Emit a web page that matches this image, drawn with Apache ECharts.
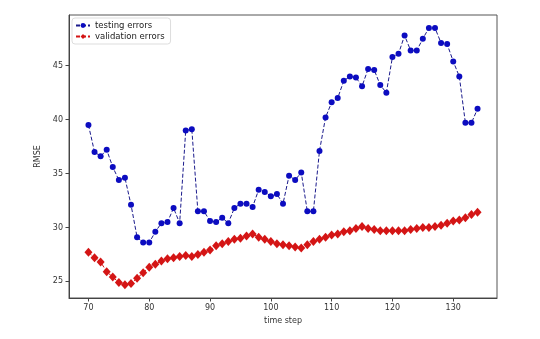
<!DOCTYPE html>
<html>
<head>
<meta charset="utf-8">
<script src="https://cdn.jsdelivr.net/npm/echarts@6/dist/echarts.min.js"></script>
<style>
  html, body { margin: 0; padding: 0; background: #fff; }
  #chart { width: 540px; height: 339px; }
</style>
</head>
<body>
<div id="chart"></div>
<script>
// time steps 70..134
const timeSteps = [
  70, 71, 72, 73, 74, 75, 76, 77, 78, 79, 80, 81, 82, 83, 84, 85, 86, 87, 88, 89,
  90, 91, 92, 93, 94, 95, 96, 97, 98, 99, 100, 101, 102, 103, 104, 105, 106, 107, 108, 109,
  110, 111, 112, 113, 114, 115, 116, 117, 118, 119, 120, 121, 122, 123, 124, 125, 126, 127, 128, 129,
  130, 131, 132, 133, 134
];

const testingErrors = [
  39.5, 37.0, 36.6, 37.2, 35.6, 34.4, 34.6, 32.1, 29.1, 28.6, 28.6, 29.6, 30.4, 30.5, 31.8, 30.4, 39.0, 39.1, 31.5, 31.5,
  30.6, 30.5, 30.9, 30.4, 31.8, 32.2, 32.2, 31.9, 33.5, 33.3, 32.9, 33.1, 32.2, 34.8, 34.4, 35.1, 31.5, 31.5, 37.1, 40.2,
  41.6, 42.0, 43.6, 44.0, 43.9, 43.1, 44.7, 44.6, 43.2, 42.5, 45.8, 46.1, 47.8, 46.4, 46.4, 47.5, 48.5, 48.5, 47.1, 47.0,
  45.4, 44.0, 39.7, 39.7, 41.0
];

const validationErrors = [
  27.7, 27.2, 26.8, 25.9, 25.4, 24.9, 24.7, 24.8, 25.3, 25.8, 26.3, 26.6, 26.9, 27.1, 27.2, 27.3, 27.4, 27.3, 27.5, 27.7,
  27.9, 28.3, 28.5, 28.7, 28.9, 29.0, 29.2, 29.4, 29.1, 28.9, 28.7, 28.5, 28.4, 28.3, 28.2, 28.1, 28.4, 28.7, 28.9, 29.1,
  29.3, 29.4, 29.6, 29.7, 29.9, 30.1, 29.9, 29.8, 29.7, 29.7, 29.7, 29.7, 29.7, 29.8, 29.9, 30.0, 30.0, 30.1, 30.2, 30.4,
  30.6, 30.7, 30.9, 31.2, 31.4
];

const xTicks = [70, 80, 90, 100, 110, 120, 130];
const yTicks = [25, 30, 35, 40, 45];

const pairs = (ys) => timeSteps.map((t, i) => [t, ys[i]]);

const chart = echarts.init(document.getElementById('chart'), null, { renderer: 'canvas' });

const axisCommon = {
  axisLine: { show: true, lineStyle: { color: '#444', width: 1 } },
  axisTick: { show: true, inside: false, length: 3.5, lineStyle: { color: '#444' } },
  axisLabel: { color: '#333', fontSize: 8, fontFamily: 'DejaVu Sans' },
  splitLine: { show: false },
  nameTextStyle: { color: '#333', fontSize: 8, fontFamily: 'DejaVu Sans' }
};

chart.setOption({
  animation: false,
  backgroundColor: '#fff',
  grid: { left: 69, right: 43, top: 15, bottom: 41, show: true, borderColor: '#555', borderWidth: 1 },
  legend: {
    left: 72, top: 18, orient: 'vertical',
    itemGap: 2, itemWidth: 14, itemHeight: 6,
    padding: [3, 6, 3, 3],
    backgroundColor: '#fff', borderColor: '#ddd', borderWidth: 1, borderRadius: 3,
    textStyle: { fontSize: 8.5, fontFamily: 'DejaVu Sans', color: '#222' },
    data: ['testing errors', 'validation errors']
  },
  xAxis: Object.assign({}, axisCommon, {
    type: 'value', min: 66.8, max: 137.2,
    name: 'time step', nameLocation: 'middle', nameGap: 18,
    axisTick: Object.assign({}, axisCommon.axisTick, { customValues: xTicks }),
    axisLabel: Object.assign({}, axisCommon.axisLabel, { customValues: xTicks, margin: 6 })
  }),
  yAxis: Object.assign({}, axisCommon, {
    type: 'value', min: 23.46, max: 49.7,
    name: 'RMSE', nameLocation: 'middle', nameGap: 19, nameRotate: 90,
    axisTick: Object.assign({}, axisCommon.axisTick, { customValues: yTicks }),
    axisLabel: Object.assign({}, axisCommon.axisLabel, { customValues: yTicks, margin: 6 })
  }),
  series: [
    {
      name: 'testing errors', type: 'line', data: pairs(testingErrors),
      symbol: 'circle', symbolSize: 6,
      itemStyle: { color: '#0c0cc0' },
      lineStyle: { color: '#1a1a8c', width: 1, type: [4, 2] },
      z: 3
    },
    {
      name: 'validation errors', type: 'line', data: pairs(validationErrors),
      symbol: 'diamond', symbolSize: [8, 9],
      itemStyle: { color: '#d41515' },
      lineStyle: { color: '#d41515', width: 1, type: [4, 2] },
      z: 2
    }
  ]
});
</script>
</body>
</html>
